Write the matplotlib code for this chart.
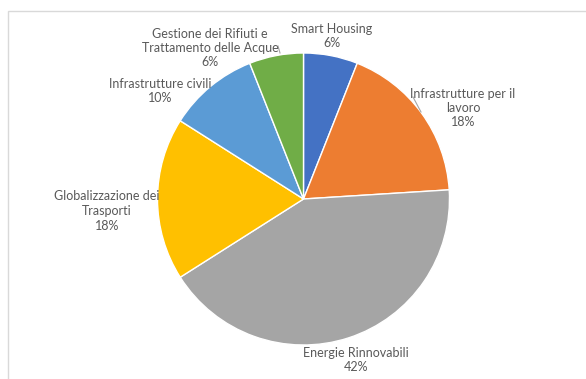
#!/usr/bin/env python3
"""Pie chart of investment share by sector."""
import matplotlib.pyplot as plt
from matplotlib.patches import Rectangle

# Sector data, clockwise from 12 o'clock.
sectors = ['Smart Housing',
           'Infrastrutture per il\nlavoro',
           'Energie Rinnovabili',
           'Globalizzazione dei\nTrasporti',
           'Infrastrutture civili',
           'Gestione dei Rifiuti e\nTrattamento delle Acque']
shares = [6, 18, 42, 18, 10, 6]
colors = ['#4472C4', '#ED7D31', '#A5A5A5', '#FFC000', '#5B9BD5', '#70AD47']

W, H = 586, 379
TEXT = '#595959'

# Label anchor points, in pixels from the top-left corner.
label_pos = [(332, 36), (463, 108), (356, 360),
             (107, 211), (160, 91), (210, 48)]
# Leader lines, same pixel frame.
leaders = [((413, 97), (421, 112)), ((278, 46), (280, 53))]


def up(y):
    """Pixel row -> data y (axis points upward)."""
    return H - y


fig = plt.figure(figsize=(W / 100, H / 100), dpi=100)
ax = fig.add_axes([0, 0, 1, 1])

ax.pie(shares, colors=colors, startangle=90, counterclock=False,
       center=(303.5, up(199)), radius=146,
       wedgeprops=dict(edgecolor='white', linewidth=1))
ax.set_xlim(0, W)
ax.set_ylim(0, H)
ax.set_aspect('equal')
ax.axis('off')

for name, val, (x, y) in zip(sectors, shares, label_pos):
    ax.text(x, up(y), '{}\n{}%'.format(name, val), ha='center', va='center',
            fontsize=9, family='Lato', color=TEXT, linespacing=1.25)

for (x0, y0), (x1, y1) in leaders:
    ax.plot([x0, x1], [up(y0), up(y1)], color='#A6A6A6', lw=0.8)

# Chart area border (runs off the right and bottom edges).
ax.add_patch(Rectangle((8, -10), W, up(11) + 10, fill=False,
                       edgecolor='#D9D9D9', lw=1, clip_on=False))

fig.savefig('out.png', dpi=100)
